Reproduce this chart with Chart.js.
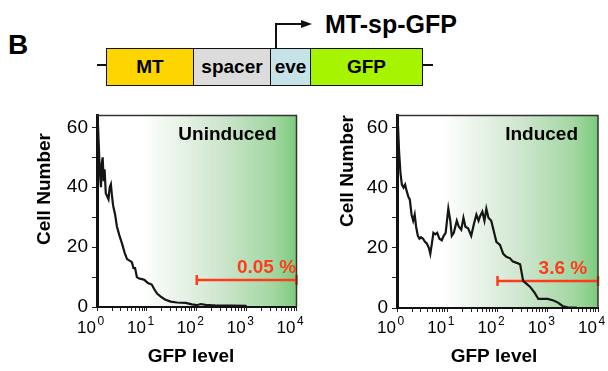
<!DOCTYPE html>
<html>
<head>
<meta charset="utf-8">
<script src="https://cdn.jsdelivr.net/npm/chart.js@4.4.0/dist/chart.umd.min.js"></script>
<style>
  body { margin: 0; background: #fff; font-family: "Liberation Sans", Arial, sans-serif; }
  #page { position: relative; width: 608px; height: 371px; overflow: hidden; }
  .lbl { position: absolute; font-weight: bold; color: #000; white-space: nowrap; line-height: 1; }
  .box { position: absolute; top: 48px; height: 38px; box-sizing: border-box; border: 1.5px solid #111;
         font-weight: bold; font-size: 19px; display: flex; align-items: center; justify-content: center; }
  .ln { position: absolute; background: #111; }
  canvas { position: absolute; top: 100px; }
</style>
</head>
<body>
<div id="page">
  <!-- construct schematic -->
  <div class="lbl" style="left:8px; top:31px; font-size:28px;">B</div>
  <div class="ln" style="left:97px; top:64px; width:10px; height:1.5px;"></div>
  <div class="ln" style="left:423px; top:64px; width:10px; height:1.5px;"></div>
  <div class="box" style="left:106px; width:88px; background:#ffd500;">MT</div>
  <div class="box" style="left:193px; width:78px; background:#dcdcdc;">spacer</div>
  <div class="box" style="left:270px; width:41px; background:#c6e3e8;">eve</div>
  <div class="box" style="left:310px; width:113px; background:#a6f400;">GFP</div>
  <div class="ln" style="left:275px; top:23px; width:1.5px; height:25px;"></div>
  <div class="ln" style="left:275px; top:23px; width:27px; height:1.5px;"></div>
  <div style="position:absolute; left:301px; top:19.5px; width:0; height:0; border-top:4.5px solid transparent; border-bottom:4.5px solid transparent; border-left:11px solid #111;"></div>
  <div class="lbl" style="left:325px; top:12px; font-size:25px;">MT-sp-GFP</div>

  <canvas id="left" width="304" height="271" style="left:0px;"></canvas>
  <canvas id="right" width="304" height="271" style="left:304px;"></canvas>
</div>
<script>
// GFP level (x) and cell counts (y)
const uninducedLevel = [1.00, 1.04, 1.08, 1.14, 1.20, 1.25, 1.30, 1.36, 1.42, 1.50, 1.60, 1.70, 1.80, 1.90, 2.0, 2.1, 2.3, 2.5, 2.8, 3.2, 3.6, 4.0, 4.5, 5.0, 5.4, 5.8, 6.3, 7.0, 8.0, 9.0, 10.5, 12.5, 14, 16, 19, 23, 30, 40, 60, 80, 100, 120, 150, 250, 500, 1000];
const uninducedCount = [64, 62, 55, 45, 40, 48, 50, 42, 46, 38, 37, 36, 40, 41, 37, 34, 31, 27, 24, 21, 18, 16, 15.5, 15, 13, 13, 10, 9.5, 9.3, 9, 8, 7.5, 6, 4.5, 3.5, 2.5, 1.8, 1.5, 1.4, 0.9, 0.6, 1.0, 0.7, 0.5, 0.5, 0.4];

const inducedLevel = [1.00, 1.05, 1.10, 1.17, 1.25, 1.35, 1.45, 1.55, 1.68, 1.80, 1.95, 2.1, 2.25, 2.4, 2.6, 2.8, 3.0, 3.3, 3.6, 3.9, 4.3, 4.6, 5.0, 5.3, 5.8, 6.3, 7.0, 7.8, 8.5, 9.3, 10.5, 11.5, 12.3, 13.5, 15.5, 17, 19, 21, 23, 26, 30, 34, 38, 42, 45, 50, 55, 60, 66, 75, 83, 95, 112, 130, 150, 178, 200, 240, 282, 324, 380, 447, 550, 650, 800, 1000, 1300, 1600, 2000, 2500, 3800];
const inducedCount = [64, 60, 52, 45, 41, 40, 41, 39, 37, 36, 31, 29, 31, 27, 24, 23, 23.5, 23, 22, 21.5, 20, 18, 22, 25, 24.5, 25, 23, 22.5, 24, 25, 33, 29, 24, 25, 29, 27, 26, 30, 27, 26.5, 24, 28, 31, 29, 30.5, 32, 29, 33, 30, 29, 26, 22, 21, 18, 17, 16.5, 15.5, 15, 14.5, 9, 8, 7, 5, 3, 3, 3, 2.5, 1.8, 0.6, 0.2, 0.1];

// gate bar
const gateFrom = 100;
const gateTo = 10000;
const gateLevel = 9;

// ticks
const xLabelTicks = [1, 10, 100, 1000, 10000];
const xMinorTicks = [1, 2, 3, 4, 5, 6, 7, 8, 9, 10, 20, 30, 40, 50, 60, 70, 80, 90, 100, 200, 300, 400, 500, 600, 700, 800, 900, 1000, 2000, 3000, 4000, 5000, 6000, 7000, 8000, 9000, 10000];
const yLabelTicks = [0, 20, 40, 60];
const yMinorTicks = [0, 5, 10, 15, 20, 25, 30, 35, 40, 45, 50, 55, 60];

const FONT = '"Liberation Sans", Arial, sans-serif';
const RED = '#ff3b1c';

const panelText = {
  id: 'panelText',
  beforeDraw(chart, args, o) {
    const { ctx, chartArea: a, scales: { x } } = chart;
    const g = ctx.createLinearGradient(x.getPixelForValue(8), 0, x.getPixelForValue(10000), 0);
    g.addColorStop(0, '#ffffff');
    g.addColorStop(0.5, '#cfe6cf');
    g.addColorStop(0.85, '#a2d7a2');
    g.addColorStop(1, '#7ccb7c');
    ctx.save();
    ctx.fillStyle = g;
    ctx.fillRect(a.left, a.top, a.right - a.left, a.bottom - a.top);
    ctx.restore();
  },
  afterDraw(chart, args, o) {
    const { ctx, chartArea: a, scales: { x, y } } = chart;
    ctx.save();
    // top and right frame
    ctx.strokeStyle = '#333';
    ctx.lineWidth = 1.5;
    ctx.beginPath();
    ctx.moveTo(a.left, a.top);
    ctx.lineTo(a.right, a.top);
    ctx.lineTo(a.right, a.bottom);
    ctx.stroke();

    ctx.fillStyle = '#000';
    ctx.font = 'bold 19px ' + FONT;
    ctx.textAlign = 'right';
    ctx.textBaseline = 'middle';
    ctx.fillText(o.name, a.right - 20, a.top + 19);

    // gate percentage
    ctx.fillStyle = RED;
    ctx.textAlign = 'center';
    ctx.fillText(o.pct, x.getPixelForValue(o.pctAt), y.getPixelForValue(gateLevel) - 12);

    // x tick labels 10^n
    ctx.fillStyle = '#000';
    xLabelTicks.forEach((v, i) => {
      const px = x.getPixelForValue(v);
      ctx.font = '17px ' + FONT;
      ctx.textAlign = 'right';
      ctx.textBaseline = 'alphabetic';
      ctx.fillText('10', px - 1, 233);
      ctx.font = '12px ' + FONT;
      ctx.textAlign = 'left';
      ctx.fillText(String(i), px + 0.5, 225);
    });

    // axis titles
    ctx.font = 'bold 19px ' + FONT;
    ctx.textAlign = 'center';
    ctx.textBaseline = 'middle';
    ctx.fillText('GFP level', o.xTitleX, 257);
    ctx.translate(o.yTitleX, o.yTitleY);
    ctx.rotate(-Math.PI / 2);
    ctx.fillText('Cell Number', 0, 0);
    ctx.restore();
  }
};

function makePanel(id, levels, counts, p) {
  const curve = levels.map((v, i) => ({ x: v, y: counts[i] }));
  new Chart(document.getElementById(id), {
    type: 'line',
    data: {
      datasets: [
        { data: curve, borderColor: '#151515', borderWidth: 2.2, pointRadius: 0, tension: 0 },
        { data: [{ x: gateFrom, y: gateLevel }, { x: gateTo, y: gateLevel }],
          borderColor: RED, borderWidth: 2.5, pointStyle: 'line', rotation: 90,
          pointRadius: 5, pointBorderWidth: 2.5, pointBorderColor: RED, clip: false }
      ]
    },
    options: {
      responsive: false,
      animation: false,
      devicePixelRatio: 1,
      layout: { padding: { top: 12, right: p.padRight, left: 0, bottom: 0 } },
      plugins: {
        legend: { display: false },
        tooltip: { enabled: false },
        panelText: p
      },
      scales: {
        x: {
          type: 'logarithmic', min: 1, max: 10000,
          afterBuildTicks: s => { s.ticks = xMinorTicks.map(v => ({ value: v })); },
          afterFit: s => { s.height = p.xHeight; },
          ticks: { display: false },
          grid: { drawOnChartArea: false, tickLength: 4, color: '#222' },
          border: { color: '#111', width: 2 }
        },
        y: {
          min: 0, max: 64,
          afterBuildTicks: s => { s.ticks = yMinorTicks.map(v => ({ value: v })); },
          afterFit: s => { s.width = p.yWidth; },
          ticks: {
            color: '#000', padding: 4, font: { family: FONT, size: 19 },
            callback: v => yLabelTicks.includes(v) ? v : ''
          },
          grid: { drawOnChartArea: false, tickLength: 5, color: '#222' },
          border: { color: '#111', width: 3 }
        }
      }
    },
    plugins: [panelText]
  });
}

makePanel('left', uninducedLevel, uninducedCount,
  { name: 'Uninduced', pct: '0.05 %', pctAt: 2500, padRight: 6, yWidth: 97, xHeight: 64,
    xTitleX: 191, yTitleX: 45, yTitleY: 89 });
makePanel('right', inducedLevel, inducedCount,
  { name: 'Induced', pct: '3.6 %', pctAt: 2000, padRight: 10, yWidth: 93, xHeight: 63,
    xTitleX: 190, yTitleX: 44, yTitleY: 71 });
</script>
</body>
</html>
